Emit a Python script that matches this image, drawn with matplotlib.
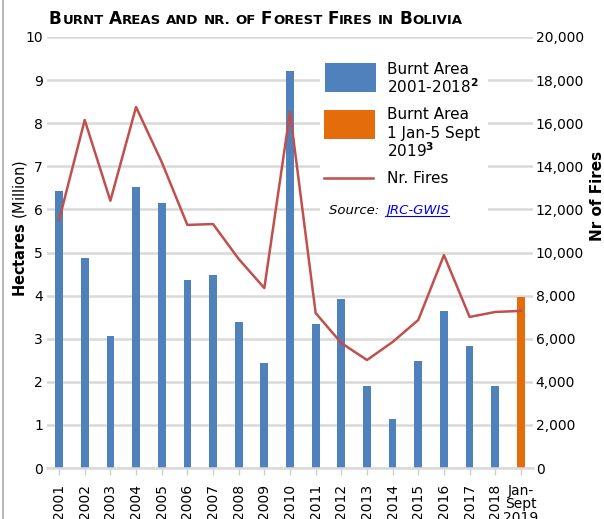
import matplotlib.pyplot as plt
from matplotlib.patches import Rectangle
from matplotlib.lines import Line2D
from matplotlib.ticker import FuncFormatter
import numpy as np

years = ['2001', '2002', '2003', '2004', '2005', '2006', '2007', '2008', '2009', '2010',
         '2011', '2012', '2013', '2014', '2015', '2016', '2017', '2018', 'Jan-\nSept\n2019']
burnt_area = [6.43, 4.87, 3.06, 6.52, 6.15, 4.36, 4.48, 3.39, 2.44, 9.21,
              3.34, 3.92, 1.90, 1.14, 2.48, 3.64, 2.83, 1.90, 3.97]
nr_fires = [11500, 16150, 12400, 16750, 14200, 11280, 11320, 9700, 8350, 16520,
            7190, 5800, 5010, 5850, 6870, 9880, 7010, 7240, 7290]

BLUE = '#4f81bd'
ORANGE = '#e46c0a'
RED = '#c0504d'
GRID = '#d9d9d9'

W, H = 604, 519
fig = plt.figure(figsize=(W / 100, H / 100), dpi=100)


def px(x, y):
    # pixel position (from top-left) -> figure fraction
    return x / W, 1 - y / H


ax = fig.add_axes([47 / W, 51 / H, 486 / W, 431 / H])
x = np.arange(len(years))
colors = [BLUE] * (len(years) - 1) + [ORANGE]
ax.bar(x, burnt_area, width=0.3, color=colors, zorder=2)
ax.set_xlim(-0.47, 18.47)
ax.set_ylim(0, 10)
ax.set_yticks(range(0, 11))
ax.yaxis.grid(True, color=GRID, lw=1.8)
ax.set_axisbelow(True)
for s in ['top', 'right', 'left']:
    ax.spines[s].set_visible(False)
ax.spines['bottom'].set_color(GRID)
ax.spines['bottom'].set_linewidth(1.8)
ax.tick_params(axis='y', length=0, labelsize=10, pad=3)
ax.set_xticks(x)
ax.set_xticklabels(years)
ax.tick_params(axis='x', length=5, color='#cccccc', width=1, labelsize=10, pad=6.5)
labels = ax.get_xticklabels()
for lab in labels[:-1]:
    lab.set_rotation(90)
    lab.set_va('top')
labels[-1].set_va('top')
labels[-1].set_linespacing(0.95)

ax2 = ax.twinx()
ax2.plot(x, nr_fires, color=RED, lw=1.8, zorder=3)
ax2.set_ylim(0, 20000)
ax2.set_yticks(range(0, 20001, 2000))
ax2.yaxis.set_major_formatter(FuncFormatter(lambda v, p: f'{int(v):,}'))
for s in ['top', 'right', 'left', 'bottom']:
    ax2.spines[s].set_visible(False)
ax2.tick_params(axis='y', length=0, labelsize=10, pad=2)

# axis titles
fig.text(*px(20, 228), r'$\bf{Hectares}$ (Million)', rotation=90, fontsize=10.5,
         ha='center', va='center')
fig.text(*px(597, 196), 'Nr of Fires', rotation=90, fontsize=11, fontweight='bold',
         ha='center', va='center')

# screenshot frame on the left
fig.lines.append(Line2D([2.5 / W, 2.5 / W], [0, 1], transform=fig.transFigure,
                        color='#a8a8a8', lw=1.2))

# legend box
fig.patches.append(Rectangle(px(320, 228), 168 / W, 183 / H, transform=fig.transFigure,
                             facecolor='white', edgecolor='none', zorder=1))
fig.patches.append(Rectangle(px(325, 92), 51 / W, 29 / H, transform=fig.transFigure,
                             facecolor=BLUE, edgecolor='none', zorder=2))
fig.patches.append(Rectangle(px(324, 139), 51 / W, 29 / H, transform=fig.transFigure,
                             facecolor=ORANGE, edgecolor='none', zorder=2))
fig.lines.append(Line2D([324 / W, 373 / W], [1 - 178 / H, 1 - 178 / H],
                        transform=fig.transFigure, color=RED, lw=1.8))
lfs = 11
for txt, yy in [('Burnt Area', 74), (r'2001-2018$^{\mathbf{2}}$', 93),
                ('Burnt Area', 119), ('1 Jan-5 Sept', 138), (r'2019$^{\mathbf{3}}$', 157),
                ('Nr. Fires', 183)]:
    fig.text(*px(387, yy), txt, fontsize=lfs, va='baseline', ha='left', zorder=3)

fig.canvas.draw()
renderer = fig.canvas.get_renderer()
t = fig.text(*px(329, 214), 'Source: ', fontsize=9.5, style='italic', va='baseline')
x0 = 329 + t.get_window_extent(renderer).width + 3
t2 = fig.text(*px(x0, 214), 'JRC-GWIS', fontsize=9.5, style='italic', va='baseline',
              color='#0000ee')
w2 = t2.get_window_extent(renderer).width
fig.lines.append(Line2D([x0 / W, (x0 + w2) / W], [1 - 216 / H, 1 - 216 / H],
                        transform=fig.transFigure, color='#0000ee', lw=0.8))

# small-caps title
words = [('B', 'URNT'), ('A', 'REAS'), ('', 'AND'), ('', 'NR.'), ('', 'OF'),
         ('F', 'OREST'), ('F', 'IRES'), ('', 'IN'), ('B', 'OLIVIA')]
xt = 49
yt = 24
for big, small in words:
    for s, size in [(big, 12.2), (small, 9.5)]:
        if not s:
            continue
        tt = fig.text(*px(xt, yt), s, fontsize=size, fontweight='bold', va='baseline')
        xt += tt.get_window_extent(renderer).width + 0.5
    xt += 4.5

fig.savefig('out.png', dpi=100)
